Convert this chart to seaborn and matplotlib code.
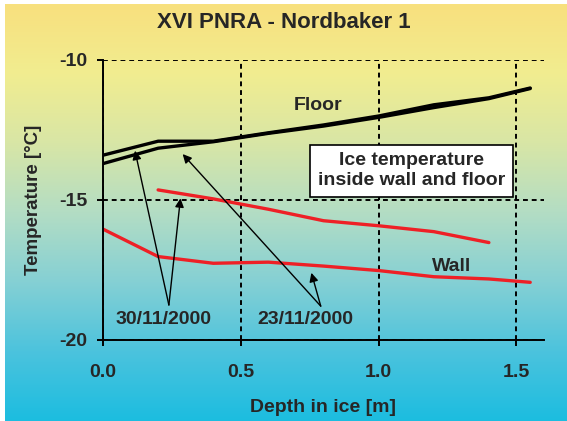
import numpy as np
import pandas as pd
import matplotlib
matplotlib.use("Agg")
import matplotlib.pyplot as plt
from matplotlib.colors import LinearSegmentedColormap
import seaborn as sns

# Depth in ice [m]
depth_floor = [0.0, 0.2, 0.4, 0.6, 0.8, 1.0, 1.2, 1.4, 1.55]
floor_upper = [-13.4, -12.9, -12.9, -12.6, -12.32, -12.0, -11.6, -11.35, -11.0]
floor_lower = [-13.7, -13.15, -12.92, -12.62, -12.36, -12.05, -11.7, -11.38, -11.02]

depth_wall_upper = [0.2, 0.4, 0.6, 0.8, 1.0, 1.2, 1.4]
wall_upper = [-14.64, -14.96, -15.33, -15.74, -15.92, -16.13, -16.52]

depth_wall_lower = [0.0, 0.2, 0.4, 0.6, 0.8, 1.0, 1.2, 1.4, 1.55]
wall_lower = [-16.04, -17.02, -17.26, -17.22, -17.36, -17.52, -17.74, -17.82, -17.94]

x_ticks = [0.0, 0.5, 1.0, 1.5]
y_ticks = [-20, -15, -10]

frames = [
    pd.DataFrame({"depth": depth_floor, "temp": floor_upper, "series": "floor_upper"}),
    pd.DataFrame({"depth": depth_floor, "temp": floor_lower, "series": "floor_lower"}),
    pd.DataFrame({"depth": depth_wall_upper, "temp": wall_upper, "series": "wall_upper"}),
    pd.DataFrame({"depth": depth_wall_lower, "temp": wall_lower, "series": "wall_lower"}),
]
df = pd.concat(frames, ignore_index=True)
palette = {"floor_upper": "black", "floor_lower": "black",
           "wall_upper": "#EE2026", "wall_lower": "#EE2026"}

sns.set_style("ticks")
plt.rcParams["font.family"] = ["Liberation Sans", "DejaVu Sans"]
plt.rcParams["font.weight"] = "bold"
plt.rcParams["axes.unicode_minus"] = False

fig = plt.figure(figsize=(5.67, 4.21), dpi=100)
fig.patch.set_facecolor("white")

# gradient background (yellow -> cyan)
bg = fig.add_axes([5 / 567, 0, 1 - 5 / 567, 1 - 4 / 421], zorder=-5)
grad_cmap = LinearSegmentedColormap.from_list(
    "bg", ["#F8E07E", "#F1ED90", "#D8E6A6", "#B3DDC4", "#85D0D4", "#4CC3DD", "#1CBDE0"])
bg.imshow(np.linspace(0, 1, 256).reshape(-1, 1), aspect="auto", cmap=grad_cmap,
          extent=[0, 1, 0, 1])
bg.set_axis_off()

ax = fig.add_axes([103 / 567, 1 - 340 / 421, 441 / 567, 280 / 421])
ax.patch.set_alpha(0)

sns.lineplot(data=df, x="depth", y="temp", hue="series", units="series",
             estimator=None, palette=palette, linewidth=2.4, legend=False,
             sort=False, ax=ax)

ax.set_xlim(0, 1.6)
ax.set_ylim(-20, -10)
ax.set_xticks(x_ticks)
ax.set_xticklabels([f"{v:.1f}" for v in x_ticks])
ax.set_yticks(y_ticks)
ax.grid(True, color="black", linestyle=(0, (2.5, 2)), linewidth=1.4)
ax.set_axisbelow(True)
sns.despine(ax=ax)
for side in ["left", "bottom"]:
    ax.spines[side].set_linewidth(1.4)
    ax.spines[side].set_color("black")
ax.tick_params(axis="both", direction="out", length=4.5, width=1.4, color="black",
               labelsize=14)
ax.tick_params(axis="x", pad=13)
ax.tick_params(axis="y", pad=7)

ax.set_xlabel("Depth in ice [m]", fontsize=14, fontweight="bold", va="center")
ax.set_ylabel("Temperature [°C]", fontsize=13.5, fontweight="bold", va="center")
ax.xaxis.set_label_coords(0.5, -(408 - 340) / 280)
ax.yaxis.set_label_coords(-(103 - 34) / 441, 0.5)

fig.text(0.5, 1 - 23 / 421, "XVI PNRA - Nordbaker 1", ha="center", va="center",
         fontsize=16, fontweight="bold")

ax.text(0.78, -11.64, "Floor", ha="center", va="center", fontsize=14, fontweight="bold")
ax.text(1.263, -17.36, "Wall", ha="center", va="center", fontsize=14, fontweight="bold")
ax.text(1.12, -13.95, "Ice temperature\ninside wall and floor", ha="center", va="center",
        fontsize=14, fontweight="bold", linespacing=1.2,
        bbox=dict(boxstyle="square,pad=0.4", facecolor="white", edgecolor="black",
                  linewidth=1.2))

ax.text(0.22, -19.25, "30/11/2000", ha="center", va="center", fontsize=14, fontweight="bold")
ax.text(0.734, -19.25, "23/11/2000", ha="center", va="center", fontsize=14, fontweight="bold")

arrow_kw = dict(arrowstyle="-|>", color="black", lw=1.0, mutation_scale=13,
                shrinkA=0, shrinkB=0)
for head in [(0.116, -13.24), (0.281, -14.94)]:
    ax.annotate("", xy=head, xytext=(0.239, -18.75), arrowprops=arrow_kw)
for head in [(0.289, -13.36), (0.756, -17.6)]:
    ax.annotate("", xy=head, xytext=(0.79, -18.79), arrowprops=arrow_kw)

fig.savefig("out.png", dpi=100)
